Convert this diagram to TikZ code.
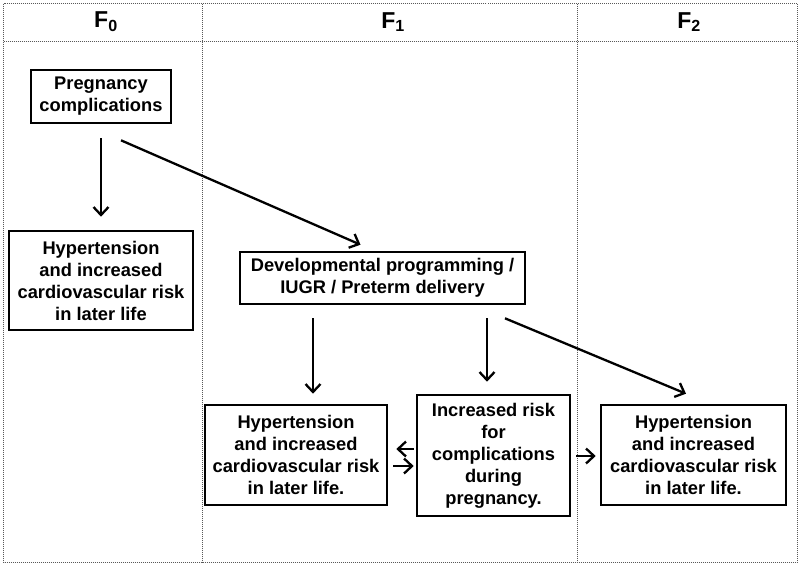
\documentclass[tikz,border=0pt]{standalone}
\usepackage{fontspec}
\setmainfont{Liberation Sans}
\usetikzlibrary{calc,arrows.meta}
\begin{document}
\begin{tikzpicture}[x=1pt,y=-1pt,
  grid/.style={draw=black!65,line width=0.9pt,dash pattern=on 1pt off 1pt},
  box/.style={draw=black,line width=2.6pt,align=center,inner sep=0pt,
    font=\fontsize{18.3}{22}\selectfont\bfseries},
  hdr/.style={font=\fontsize{23}{26}\selectfont\bfseries},
  arr/.style={draw=black,line width=2.3pt,-{Straight Barb[length=8pt,width=15pt,line width=2.3pt]}}]
\useasboundingbox (0,0) rectangle (800,566);
% frame
\draw[grid] (3.5,3.5) rectangle (797,562.5);
\draw[grid] (3.5,41) -- (797,41);
\draw[grid] (202,3.5) -- (202,562.5);
\draw[grid] (577,3.5) -- (577,562.5);
\node[hdr] (f0) at (106,22) {F\textsubscript{0}};
\node[hdr] (f1) at (393,22) {F\textsubscript{1}};
\node[hdr] (f2) at (689,22) {F\textsubscript{2}};
% boxes
\node[box,minimum width=140pt,minimum height=53pt] (preg) at (101,96.5) {Pregnancy\\complications};
\node[box,minimum width=184pt,minimum height=99pt] (h0) at (101,280.5) {Hypertension\\and increased\\cardiovascular risk\\in later life};
\node[box,minimum width=285pt,minimum height=52pt] (dev) at (382.5,278) {Developmental programming /\\IUGR / Preterm delivery};
\node[box,minimum width=182pt,minimum height=100pt] (h1) at (296,455) {Hypertension\\and increased\\cardiovascular risk\\in later life.};
\node[box,minimum width=153pt,minimum height=121pt] (inc) at (493.5,455.5) {Increased risk\\for\\complications\\during\\pregnancy.};
\node[box,minimum width=185pt,minimum height=100pt] (h2) at (693.5,455) {Hypertension\\and increased\\cardiovascular risk\\in later life.};
% arrows
\draw[arr] ($(preg.south)+(0,14)$) -- ($(h0.north)+(0,-13)$);
\draw[arr] ($(preg.south)+(20,16)$) -- ($(dev.north)+(-22,-6)$);
\draw[arr] ($(dev.south)+(-69.5,13)$) -- ($(h1.north)+(17,-10)$);
\draw[arr] ($(dev.south)+(104.5,13)$) -- ($(inc.north)+(-6.5,-12)$);
\draw[arr] ($(dev.south)+(122.5,13)$) -- ($(h2.north)+(-7.5,-10)$);
\draw[arr] ($(inc.west)+(-2,-6.5)$) -- ($(h1.east)+(8,-6)$);
\draw[arr] ($(h1.east)+(5,11)$) -- ($(inc.west)+(-2,10.5)$);
\draw[arr] ($(inc.east)+(5,0.5)$) -- ($(h2.west)+(-4,1)$);
\end{tikzpicture}
\end{document}
